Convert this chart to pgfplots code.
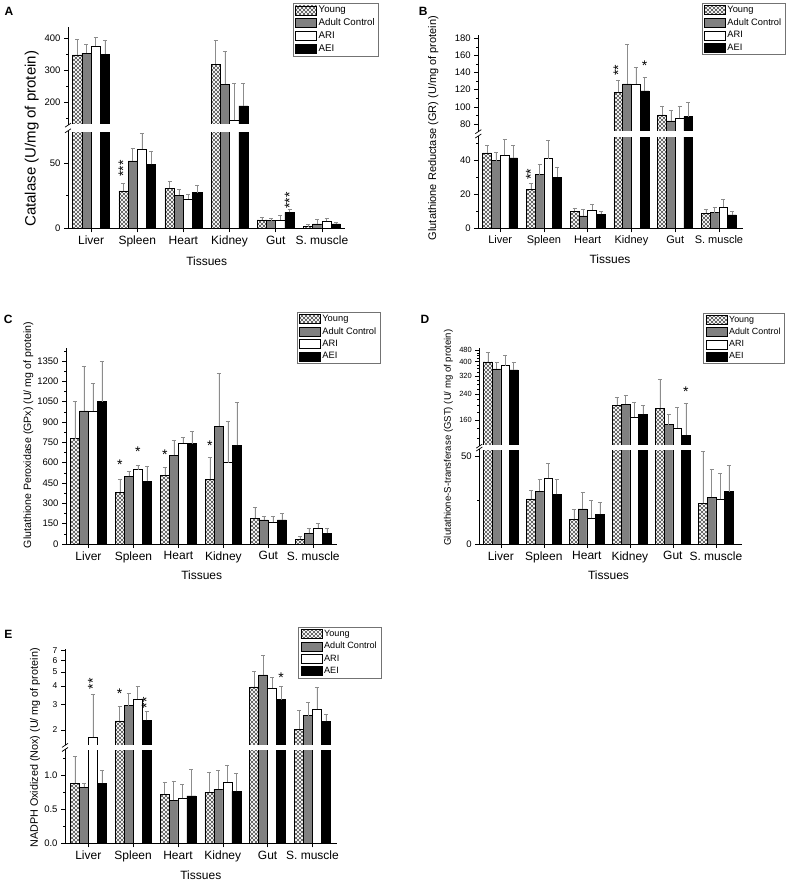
\documentclass[border=0pt]{standalone}
\usepackage{fontspec}
\setmainfont{Liberation Sans}
\usepackage{pgfplots}
\pgfplotsset{compat=1.18}
\usepackage{pgfplotstable}
\usetikzlibrary{patterns}

% columns: x, young, adult control, ARI, AEI (value and upper error)
\pgfplotstableread{
x a ea b eb c ec d ed
1 348 49 354 27 376 27 351 42
2 28.7 5.9 51.8 9.7 60.8 12.2 49.2 10.3
3 30.8 5.6 25.6 4.4 22.6 3.6 27.4 5.9
4 320 74 257 103 146 114 190 70
5 6.4 2.1 5.9 1.8 6.4 3.9 12.3 2.6
6 1.3 1.7 3.3 3.6 5.6 1.8 3.3 1.3
}\tA
\pgfplotstableread{
x a ea b eb c ec d ed
1 44.1 4.5 39.6 5.1 42.7 9.2 41.2 7.2
2 22.9 3.2 31.4 5.9 40.8 10.6 30.0 5.9
3 10.0 2.0 7.3 4.1 10.8 3.5 8.2 1.6
4 117 14.4 126.7 46.3 126.7 19.3 118.5 15.5
5 90.5 10.5 83.5 12.1 86.6 14.4 88.6 16.3
6 8.8 2.4 9.2 3.2 12.4 4.6 7.8 2.4
}\tB
\pgfplotstableread{
x a ea b eb c ec d ed
1 777 279 982 331 982 203 1051 297
2 383 91 499 37 548 30 464 109
3 506 57 654 111 745 40 740 89
4 477 162 869 393 600 302 727 316
5 189 81 177 29 160 46 177 49
6 34 20 79 37 116 36 79 39
}\tC
\pgfplotstableread{
x a ea b eb c ec d ed
1 400 61 357 40 377 69 352 46
2 25.6 4.9 30.1 6.6 37.3 8.5 28.2 8.5
3 14.0 5.7 19.9 9.5 14.6 10.2 16.9 6.6
4 202 25 205 31 167 45 174.6 27.4
5 192.5 112.5 148.6 26 141 55 126 81
6 23.1 29.4 26.5 15.9 25.4 14.8 29.7 15.0
}\tD
\pgfplotstableread{
x a ea b eb c ec d ed
1 0.882 0.393 0.824 0.058 1.79 1.74 0.882 0.19
2 2.31 0.60 2.94 0.64 3.26 0.72 2.33 0.36
3 0.725 0.177 0.637 0.28 0.662 0.206 0.696 0.397
4 0.75 0.30 0.794 0.284 0.902 0.25 0.765 0.265
5 3.94 1.14 4.77 1.73 3.89 0.69 3.23 0.75
6 2.03 0.70 2.51 0.58 2.78 1.16 2.29 0.29
}\tE

% coarser diagonal crosshatch, like the original
\pgfdeclarepatternformonly{xhatch}{\pgfpoint{-0.5pt}{-0.5pt}}{\pgfpoint{4.5pt}{4.5pt}}{\pgfpoint{4pt}{4pt}}{%
  \pgfsetlinewidth{0.45pt}%
  \pgfpathmoveto{\pgfpoint{-0.1pt}{-0.1pt}}\pgfpathlineto{\pgfpoint{4.1pt}{4.1pt}}%
  \pgfpathmoveto{\pgfpoint{-0.1pt}{4.1pt}}\pgfpathlineto{\pgfpoint{4.1pt}{-0.1pt}}%
  \pgfusepath{stroke}}

\tikzset{
  young/.style={draw=black, line width=0.5pt, pattern=xhatch, pattern color=black!70},
  adult/.style={draw=black, line width=0.5pt, fill=black!50},
  ari/.style={draw=black, line width=0.5pt, fill=white},
  aei/.style={draw=black, line width=0.5pt, fill=black},
  sig/.style={font=\fontsize{14}{14}\selectfont, inner sep=0pt},
  brk/.style={line width=0.7pt},
}

\pgfplotsset{
  base/.style={
    scale only axis, anchor=south west, bar width=0.2,
    axis y line*=left, tick align=outside,
    major tick length=4pt, minor tick length=2pt,
    axis line style={line width=0.8pt}, tick style={black, line width=0.6pt},
    /pgf/number format/assume math mode=true, /pgf/number format/1000 sep={},
    scaled y ticks=false,
    yticklabel style={font=\fontsize{9.5}{10}\selectfont},
    legend style={draw=black!55, line width=0.5pt, anchor=north west,
      font=\fontsize{9.3}{10}\selectfont, inner xsep=2pt, inner ysep=1pt, row sep=0.5pt},
    legend cell align=left,
    legend image code/.code={\draw[##1] (0pt,-4.5pt) rectangle (21pt,4.5pt);},
  },
  low/.style={base, axis x line*=bottom, ymin=0, xtick={1,...,6},
    xticklabels={Liver,Spleen,Heart,Kidney,Gut,S. muscle},
    xticklabel style={font=\fontsize{12}{12}\selectfont}},
  up/.style={base, hide x axis},
  errs/.style={error bars/.cd, y dir=plus, y explicit,
    error bar style={black!45, line width=0.5pt},
    error mark options={rotate=90, black!45, mark size=2pt, line width=0.5pt}},
}

\newcommand\fourbars[1]{%
  \addplot[ybar, young, bar shift=0pt, errs] table[x expr=\thisrow{x}-0.3, y=a, y error=ea]{#1};
  \addplot[ybar, adult, bar shift=0pt, errs] table[x expr=\thisrow{x}-0.1, y=b, y error=eb]{#1};
  \addplot[ybar, ari, bar shift=0pt, errs] table[x expr=\thisrow{x}+0.1, y=c, y error=ec]{#1};
  \addplot[ybar, aei, bar shift=0pt, errs] table[x expr=\thisrow{x}+0.3, y=d, y error=ed]{#1};
}
\newcommand\legendfour{%
  \addlegendimage{young}\addlegendentry{Young}
  \addlegendimage{adult}\addlegendentry{Adult Control}
  \addlegendimage{ari}\addlegendentry{ARI}
  \addlegendimage{aei}\addlegendentry{AEI}
}

\begin{document}
\begin{tikzpicture}
\useasboundingbox (0,0) rectangle (787pt,882pt);

% ---------------- A ----------------
\begin{axis}[low, at={(68pt,653.7pt)}, width=277pt, height=97.5pt,
  xmin=0.5, xmax=6.5, ymax=75, ytick={0,50}, minor ytick={25}]
\fourbars{\tA}
\node[sig, rotate=90] at (axis cs:1.7,46) {***};
\node[sig, rotate=90] at (axis cs:5.3,21.4) {***};
\end{axis}
\begin{axis}[up, at={(68pt,756.8pt)}, width=277pt, height=98.2pt,
  xmin=0.5, xmax=6.5, ymin=130, ymax=435, ytick={200,300,400}, minor ytick={150,250,350},
  legend style={at={(0.812,1.244)}, font=\fontsize{9.7}{10}\selectfont}]
\legendfour
\fourbars{\tA}
\end{axis}

% ---------------- B ----------------
\begin{axis}[low, at={(478.3pt,653.7pt)}, width=264.7pt, height=92.3pt,
  xmin=0.5, xmax=6.55, ymax=54, ytick={0,20,40}, minor ytick={10,30,50},
  xticklabel style={font=\fontsize{11}{11}\selectfont}]
\fourbars{\tB}
\node[sig, rotate=90] at (axis cs:1.7,31.5) {**};
\end{axis}
\begin{axis}[up, at={(478.3pt,750.3pt)}, width=264.7pt, height=96.8pt,
  xmin=0.5, xmax=6.55, ymin=71, ymax=184, ytick={80,100,...,180}, minor ytick={90,110,...,170},
  legend style={at={(0.844,1.3295)}}]
\legendfour
\fourbars{\tB}
\node[sig, rotate=90] at (axis cs:3.7,143) {**};
\node[sig] at (axis cs:4.3,148) {*};
\end{axis}

% ---------------- C ----------------
\begin{axis}[low, at={(66pt,338pt)}, width=270.7pt, height=195.9pt,
  xmin=0.5, xmax=6.52, ymax=1445, ytick={0,150,...,1350}, minor ytick={75,225,...,1425},
  legend style={at={(0.852,1.186)}}]
\legendfour
\fourbars{\tC}
\node[sig] at (axis cs:1.7,585) {*};
\node[sig] at (axis cs:2.1,683) {*};
\node[sig] at (axis cs:2.7,659) {*};
\node[sig] at (axis cs:3.7,728) {*};
\end{axis}

% ---------------- D ----------------
\begin{axis}[low, at={(479.3pt,338pt)}, width=262.4pt, height=95pt,
  xmin=0.5, xmax=6.6, ymax=54, ytick={0,50}, minor ytick={25}]
\fourbars{\tD}
\end{axis}
\begin{axis}[up, ymode=log, at={(479.3pt,435.9pt)}, width=262.4pt, height=98.5pt,
  xmin=0.5, xmax=6.6, ymin=106, ymax=500,
  ytick={160,240,320,400,480}, yticklabels={160,240,320,400,480},
  minor ytick={120,140,180,200,220,260,280,300,340,360,380,420,440,460},
  yticklabel style={font=\fontsize{7.5}{8}\selectfont},
  legend style={at={(0.854,1.354)}, font=\fontsize{8.9}{10}\selectfont}]
\legendfour
\fourbars{\tD}
\node[sig] at (axis cs:5.3,250) {*};
\end{axis}

% ---------------- E ----------------
\begin{axis}[low, at={(65pt,38.7pt)}, width=271.7pt, height=93.8pt,
  xmin=0.48, xmax=6.54, ymax=1.38, ytick={0,0.5,1}, yticklabels={0.0,0.5,1.0},
  minor ytick={0.25,0.75,1.25}]
\fourbars{\tE}
\end{axis}
\begin{axis}[up, ymode=log, at={(65pt,136.6pt)}, width=271.7pt, height=96.7pt,
  xmin=0.48, xmax=6.54, ymin=1.57, ymax=7.2,
  ytick={2,3,4,5,6,7}, yticklabels={2,3,4,5,6,7},
  yticklabel style={font=\fontsize{8.5}{9}\selectfont},
  legend style={at={(0.859,1.2275)}, font=\fontsize{9.1}{10}\selectfont}]
\legendfour
\fourbars{\tE}
\node[sig, rotate=90] at (axis cs:1.1,4.13) {**};
\node[sig] at (axis cs:1.7,3.55) {*};
\node[sig, rotate=90] at (axis cs:2.3,3.08) {**};
\node[sig] at (axis cs:5.3,4.55) {*};
\end{axis}

% white gap of the broken axes: hides bar edges clipped at the break
\foreach \xl/\xr/\ya/\yb in {68/345/756.8/751.2, 478.3/743/750.3/746, 479.3/741.7/435.9/433, 65/336.7/136.6/132.5}{
  \fill[white] (\xl pt+0.6pt,\yb pt-0.8pt) rectangle (\xr pt+2pt,\ya pt+0.8pt);
  \draw[brk] (\xl pt-3pt,\ya pt-2pt) -- (\xl pt+3pt,\ya pt+2pt);
  \draw[brk] (\xl pt-3pt,\yb pt-2pt) -- (\xl pt+3pt,\yb pt+2pt);
}

% axis titles and panel letters
\node[rotate=90, font=\fontsize{15}{15}\selectfont] at (31.7pt,743.2pt) {Catalase (U/mg of protein)};
\node[rotate=90, font=\fontsize{11}{11}\selectfont] at (433.3pt,754pt) {Glutathione Reductase (GR) (U/mg of protein)};
\node[rotate=90, font=\fontsize{10.6}{11}\selectfont] at (28.3pt,447.1pt) {Glutathione Peroxidase (GPx) (U/ mg of protein)};
\node[rotate=90, font=\fontsize{9.6}{10}\selectfont] at (448.3pt,444.5pt) {Glutathione-S-transferase (GST) (U/ mg of protein)};
\node[rotate=90, font=\fontsize{10.8}{11}\selectfont] at (35pt,134pt) {NADPH Oxidized (Nox) (U/ mg of protein)};

\foreach \tx/\ty in {206.7/620.3, 610/622.7, 201.7/306.3, 608.5/307, 200.8/7}{
  \node[font=\fontsize{12}{12}\selectfont] at (\tx pt,\ty pt) {Tissues};
}
\node[font=\bfseries\fontsize{12}{12}\selectfont] at (9pt,871pt) {A};
\node[font=\bfseries\fontsize{12}{12}\selectfont] at (423.3pt,871pt) {B};
\node[font=\bfseries\fontsize{12}{12}\selectfont] at (8.3pt,562.7pt) {C};
\node[font=\bfseries\fontsize{12}{12}\selectfont] at (425pt,562.7pt) {D};
\node[font=\bfseries\fontsize{12}{12}\selectfont] at (8.3pt,248pt) {E};
\end{tikzpicture}
\end{document}
